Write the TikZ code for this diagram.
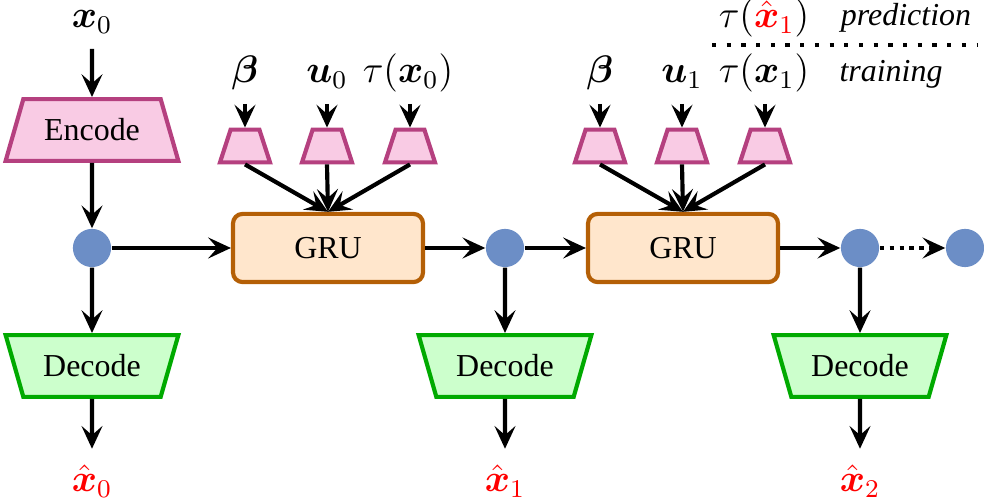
\documentclass[tikz,border=0pt]{standalone}
\usepackage{amsmath}
\usepackage{fontspec}
\setmainfont{Liberation Serif}
\usetikzlibrary{shapes.geometric,arrows.meta}

\definecolor{encfill}{RGB}{249,203,228}
\definecolor{encdraw}{RGB}{181,64,127}
\definecolor{decfill}{RGB}{204,255,204}
\definecolor{decdraw}{RGB}{0,170,0}
\definecolor{grufill}{RGB}{255,230,204}
\definecolor{grudraw}{RGB}{180,95,6}
\definecolor{statefill}{RGB}{108,142,198}

\tikzset{
  encoder/.style={trapezium, trapezium stretches body, trapezium left angle=68,
    trapezium right angle=68, minimum width=1.9cm, minimum height=0.68cm,
    fill=encfill, draw=encdraw, line width=1.3pt},
  decoder/.style={encoder, shape border rotate=180, fill=decfill, draw=decdraw},
  embed/.style={trapezium, trapezium stretches body, trapezium left angle=72,
    trapezium right angle=72, inner xsep=0pt, inner ysep=0.18cm,
    minimum width=0.55cm, fill=encfill, draw=encdraw, line width=1.3pt},
  gru/.style={rectangle, rounded corners=3pt, minimum width=2.09cm,
    minimum height=0.75cm, fill=grufill, draw=grudraw, line width=1.3pt},
  state/.style={circle, fill=statefill, minimum size=0.42cm, inner sep=0pt},
  lbl/.style={font=\large, anchor=base, text height=8pt, text depth=3pt},
  outlbl/.style={lbl, red, text height=10pt},
  arr/.style={-{Stealth[length=2.5mm,width=2.3mm,inset=1mm]}, line width=1.3pt},
  legendline/.style={line width=1.4pt, dash pattern=on 1.3pt off 3.3pt},
}

\begin{document}
\begin{tikzpicture}[x=0.011cm, y=-0.011cm]

    % Fix the size of the picture
    \useasboundingbox (0,0) rectangle (984,500);

    % Encoder branch
    \node[lbl] (x0) at (92,28) {$\boldsymbol{x}_0$};
    \node[encoder] (enc) at (92,130) {Encode};
    \node[state] (h0) at (92,248) {};
    \node[decoder] (dec0) at (92,366) {Decode};
    \node[outlbl] (xh0) at (92,492) {$\hat{\boldsymbol{x}}_0$};

    % First GRU step
    \node[gru] (gru1) at (328,248) {GRU};
    \node[lbl] (beta1) at (245,83) {$\boldsymbol{\beta}$};
    \node[lbl] (u0) at (327,83) {$\boldsymbol{u}_0$};
    \node[lbl] (tau0) at (408,83) {$\tau(\boldsymbol{x}_0)$};
    \node[embed] (eb1) at (245,146) {};
    \node[embed] (eu1) at (327,146) {};
    \node[embed] (et1) at (410,146) {};
    \node[state] (h1) at (505,248) {};
    \node[decoder] (dec1) at (505,366) {Decode};
    \node[outlbl] (xh1) at (505,492) {$\hat{\boldsymbol{x}}_1$};

    % Second GRU step
    \node[gru] (gru2) at (683,248) {GRU};
    \node[lbl] (beta2) at (600,83) {$\boldsymbol{\beta}$};
    \node[lbl] (u1) at (682,83) {$\boldsymbol{u}_1$};
    \node[lbl] (tau1) at (764,83) {$\tau(\boldsymbol{x}_1)$};
    \node[embed] (eb2) at (600,146) {};
    \node[embed] (eu2) at (682,146) {};
    \node[embed] (et2) at (765,146) {};
    \node[state] (h2) at (860,248) {};
    \node[decoder] (dec2) at (860,366) {Decode};
    \node[outlbl] (xh2) at (860,492) {$\hat{\boldsymbol{x}}_2$};
    \node[state] (h3) at (965,248) {};

    % Legend
    \node[lbl] (tauhat) at (764,28) {$\tau(\textcolor{red}{\hat{\boldsymbol{x}}_1})$};
    \node[anchor=base] (pred) at (906,26) {\textit{prediction}};
    \node[anchor=base] (train) at (891,82) {\textit{training}};
    \coordinate (legl) at (712,45);
    \coordinate (legr) at (977,45);
    \draw[legendline] (legl) -- (legr);

    % Vertical arrows
    \draw[arr] (x0) -- (enc);
    \draw[arr] (enc) -- (h0);
    \draw[arr] (h0) -- (dec0);
    \draw[arr] (dec0) -- (xh0);
    \draw[arr] (h1) -- (dec1);
    \draw[arr] (dec1) -- (xh1);
    \draw[arr] (h2) -- (dec2);
    \draw[arr] (dec2) -- (xh2);

    % Inputs into the GRUs
    \draw[arr] (beta1) -- (eb1);
    \draw[arr] (u0) -- (eu1);
    \draw[arr] (tau0.south -| et1) -- (et1);
    \draw[arr] (eb1.south) -- (gru1.north);
    \draw[arr] (eu1.south) -- (gru1.north);
    \draw[arr] (et1.south) -- (gru1.north);
    \draw[arr] (beta2) -- (eb2);
    \draw[arr] (u1) -- (eu2);
    \draw[arr] (tau1.south -| et2) -- (et2);
    \draw[arr] (eb2.south) -- (gru2.north);
    \draw[arr] (eu2.south) -- (gru2.north);
    \draw[arr] (et2.south) -- (gru2.north);

    % Hidden state chain
    \draw[arr] (h0) -- (gru1);
    \draw[arr] (gru1) -- (h1);
    \draw[arr] (h1) -- (gru2);
    \draw[arr] (gru2) -- (h2);
    \draw[arr, dash pattern=on 1.3pt off 1.8pt] (h2) -- (h3);

\end{tikzpicture}
\end{document}
